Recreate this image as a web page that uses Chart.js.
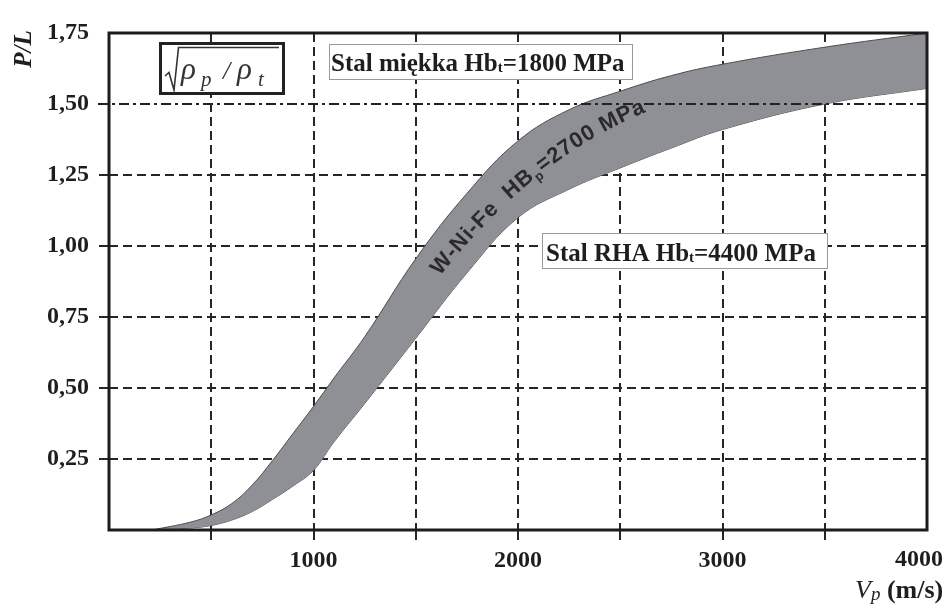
<!DOCTYPE html>
<html><head><meta charset="utf-8">
<script src="https://cdn.jsdelivr.net/npm/chart.js@4.4.1/dist/chart.umd.min.js"></script>
<style>html,body{margin:0;padding:0;background:#fff}#wrap{width:948px;height:608px;position:relative}</style>
</head><body><div id="wrap"><canvas id="c" width="948" height="608"></canvas></div>
<script>
// Data (V_p in m/s, P/L ratio)
const velocity = [210, 400, 500, 600, 700, 800, 900, 1000, 1100, 1250, 1500, 1750, 2000, 2250, 2500, 2750, 3000, 3500, 4000];
const upperPL  = [0, 0.028, 0.053, 0.093, 0.158, 0.245, 0.34, 0.435, 0.535, 0.68, 0.955, 1.185, 1.37, 1.48, 1.545, 1.60, 1.64, 1.70, 1.75];
const lowerPL  = [0, 0.007, 0.016, 0.035, 0.065, 0.108, 0.155, 0.21, 0.31, 0.445, 0.675, 0.905, 1.10, 1.20, 1.275, 1.345, 1.41, 1.50, 1.555];
const xTickLabels = ['1000', '2000', '3000', '4000'];
const yTickLabels = ['0,25', '0,50', '0,75', '1,00', '1,25', '1,50', '1,75'];
const labelSoft = ['Stal miękka Hb', 't', '=1800 MPa'];
const labelRHA  = ['Stal RHA Hb', 't', '=4400 MPa'];
const labelWNiFe = ['W-Ni-Fe  HB', 'p', '=2700 MPa'];

const SERIF = '"Liberation Serif", "Times New Roman", serif';
const SANS = '"Liberation Sans", Arial, sans-serif';
const INK = '#1e1e1e';
const TICK_FONT = 'bold 24px ' + SERIF;

function pts(ys){ return velocity.map((v,i)=>({x:v, y:ys[i]})); }

function drawRuns(ctx, x, base, runs){
  for (const r of runs){
    ctx.font = r.font;
    const xx = (r.x !== undefined) ? r.x : x;
    ctx.fillText(r.t, xx, base + (r.dy||0));
    x = xx + ctx.measureText(r.t).width;
  }
  return x;
}

function textOnBezier(ctx, P, runs, color){
  const N = 400, samples = [];
  let len = 0, prev = null;
  for (let i=0;i<=N;i++){
    const t=i/N, u=1-t;
    const x = u*u*u*P[0][0]+3*u*u*t*P[1][0]+3*u*t*t*P[2][0]+t*t*t*P[3][0];
    const y = u*u*u*P[0][1]+3*u*u*t*P[1][1]+3*u*t*t*P[2][1]+t*t*t*P[3][1];
    if (prev) len += Math.hypot(x-prev[0], y-prev[1]);
    samples.push([x,y,len]);
    prev=[x,y];
  }
  const chars = [];
  for (const r of runs){ ctx.font = r.font; for (const ch of r.t){ chars.push({ch, font:r.font, dy:r.dy||0, w:ctx.measureText(ch).width}); } }
  const W = chars.reduce((s,c)=>s+c.w,0);
  const gap = Math.max(0,(len-W)/(chars.length-1));
  function at(s){
    let i=1; while(i<samples.length-1 && samples[i][2]<s) i++;
    const a=samples[i-1], b=samples[i];
    const f=(s-a[2])/Math.max(1e-6,(b[2]-a[2]));
    return [a[0]+(b[0]-a[0])*f, a[1]+(b[1]-a[1])*f, Math.atan2(b[1]-a[1], b[0]-a[0])];
  }
  let s=0;
  ctx.fillStyle=color; ctx.textAlign='center'; ctx.textBaseline='alphabetic';
  for (const c of chars){
    const p = at(s + c.w/2);
    ctx.save(); ctx.translate(p[0],p[1]); ctx.rotate(p[2]);
    ctx.font=c.font; ctx.fillText(c.ch,0,c.dy); ctx.restore();
    s += c.w + gap;
  }
}

const overlay = {
  id:'overlay',
  afterDraw(chart){
    const {ctx, chartArea:a, scales:{x,y}} = chart;
    ctx.save();
    // dash-dot line at 1.50
    const y15 = y.getPixelForValue(1.5);
    ctx.strokeStyle='#222'; ctx.lineWidth=2; ctx.setLineDash([10,4,3,4]);
    ctx.beginPath(); ctx.moveTo(a.left-11, y15); ctx.lineTo(a.right, y15); ctx.stroke();
    ctx.setLineDash([]);
    // frame
    ctx.lineWidth=3; ctx.strokeStyle='#1c1c1c';
    ctx.strokeRect(a.left, a.top, a.right-a.left, a.bottom-a.top);

    // last x tick label (kept inside the canvas like the reference)
    ctx.fillStyle=INK; ctx.font=TICK_FONT; ctx.textAlign='center'; ctx.textBaseline='top';
    ctx.fillText(xTickLabels[3], x.getPixelForValue(4000)-8, a.bottom+18);

    // formula box
    ctx.fillStyle='#fff'; ctx.fillRect(160,43,124,51);
    ctx.lineWidth=3; ctx.strokeStyle='#222'; ctx.strokeRect(160.5,43.5,123,50);
    ctx.lineWidth=1.6; ctx.strokeStyle='#333';
    ctx.beginPath(); ctx.moveTo(165,76); ctx.lineTo(169,72.5); ctx.lineTo(174,90); ctx.lineTo(178.5,47.5); ctx.lineTo(279,47.5); ctx.stroke();
    ctx.fillStyle='#333'; ctx.textAlign='left'; ctx.textBaseline='alphabetic';
    drawRuns(ctx, 181, 79, [
      {t:'ρ', font:'italic 31px '+SERIF, x:181},
      {t:'p', font:'italic 21px '+SERIF, dy:7, x:201},
      {t:'/', font:'italic 26px '+SERIF, x:223},
      {t:'ρ', font:'italic 31px '+SERIF, x:237},
      {t:'t', font:'italic 21px '+SERIF, dy:7, x:258}
    ]);

    // labelled boxes
    ctx.fillStyle='#fff'; ctx.fillRect(329,44,304,35);
    ctx.lineWidth=1; ctx.strokeStyle='#9a9a9a'; ctx.strokeRect(329.5,44.5,303,35);
    ctx.fillStyle=INK;
    drawRuns(ctx, 331, 71, [
      {t:labelSoft[0], font:'bold 25px '+SERIF},
      {t:labelSoft[1], font:'bold 15px '+SERIF, dy:1},
      {t:labelSoft[2], font:'bold 25px '+SERIF}
    ]);
    ctx.fillStyle='#fff'; ctx.fillRect(542,233,286,35);
    ctx.strokeStyle='#9a9a9a'; ctx.strokeRect(542.5,233.5,285,35);
    ctx.fillStyle=INK;
    drawRuns(ctx, 546, 261, [
      {t:labelRHA[0], font:'bold 25px '+SERIF},
      {t:labelRHA[1], font:'bold 15px '+SERIF, dy:1},
      {t:labelRHA[2], font:'bold 25px '+SERIF}
    ]);

    // W-Ni-Fe label along the band
    textOnBezier(ctx, [[440,276],[486,218],[553,150],[646,112]], [
      {t:labelWNiFe[0], font:'bold 22px '+SANS},
      {t:labelWNiFe[1], font:'bold 13px '+SANS, dy:5},
      {t:labelWNiFe[2], font:'bold 22px '+SANS}
    ], '#2a2a2a');

    // axis titles
    ctx.fillStyle=INK; ctx.textAlign='center'; ctx.textBaseline='alphabetic';
    ctx.save(); ctx.translate(31,49); ctx.rotate(-Math.PI/2);
    ctx.font='italic bold 25px '+SERIF; ctx.fillText('P/L',0,0); ctx.restore();
    ctx.textAlign='left';
    drawRuns(ctx, 855, 598, [
      {t:'V', font:'italic 26px '+SERIF},
      {t:'p', font:'italic 19px '+SERIF, dy:2},
      {t:' (m/s)', font:'bold 26px '+SERIF}
    ]);
    ctx.restore();
  }
};

const gridColorX = c => (c.tick && (c.tick.value===0 || c.tick.value===4000)) ? 'rgba(0,0,0,0)' : '#262626';
const gridColorY = c => (c.tick && (c.tick.value===0 || Math.abs(c.tick.value-1.5)<1e-6 || Math.abs(c.tick.value-1.75)<1e-6)) ? 'rgba(0,0,0,0)' : '#262626';

new Chart(document.getElementById('c'), {
  type:'line',
  data:{datasets:[
    {label:'upper', data:pts(upperPL), borderColor:'#4d4d4d', borderWidth:1, backgroundColor:'rgb(142,144,150)', fill:'+1', pointRadius:0, tension:0.4},
    {label:'lower', data:pts(lowerPL), borderColor:'#4d4d4d', borderWidth:1, fill:false, pointRadius:0, tension:0.4}
  ]},
  options:{
    responsive:false, animation:false, devicePixelRatio:1,
    layout:{padding:{left:0, right:21, top:33, bottom:0}},
    plugins:{legend:{display:false}, tooltip:{enabled:false}},
    scales:{
      x:{type:'linear', min:0, max:4000, z:1,
        afterFit:s=>{s.height=78; s.paddingRight=0; s.paddingLeft=0;},
        border:{display:false, dash:[9,5]},
        grid:{color:gridColorX, lineWidth:2, tickLength:10, tickColor:gridColorX, tickWidth:2, tickBorderDash:[]},
        ticks:{stepSize:500, autoSkip:false, maxRotation:0, padding:6, color:INK,
          font:{family:SERIF, weight:'bold', size:24},
          callback:v=>{ const i = xTickLabels.indexOf(String(v)); return (i>=0 && i<3) ? xTickLabels[i] : ''; }}
      },
      y:{type:'linear', min:0, max:1.75, z:1,
        afterFit:s=>{s.width=109;},
        border:{display:false, dash:[9,5]},
        grid:{color:gridColorY, lineWidth:2, tickLength:10, tickColor:gridColorY, tickWidth:2, tickBorderDash:[9,5]},
        ticks:{stepSize:0.25, padding:10, color:INK,
          font:{family:SERIF, weight:'bold', size:24},
          callback:v=>{ const k = Math.round(v*4); return k>0 ? yTickLabels[k-1] : ''; }}
      }
    }
  },
  plugins:[overlay]
});
</script>
</body></html>
